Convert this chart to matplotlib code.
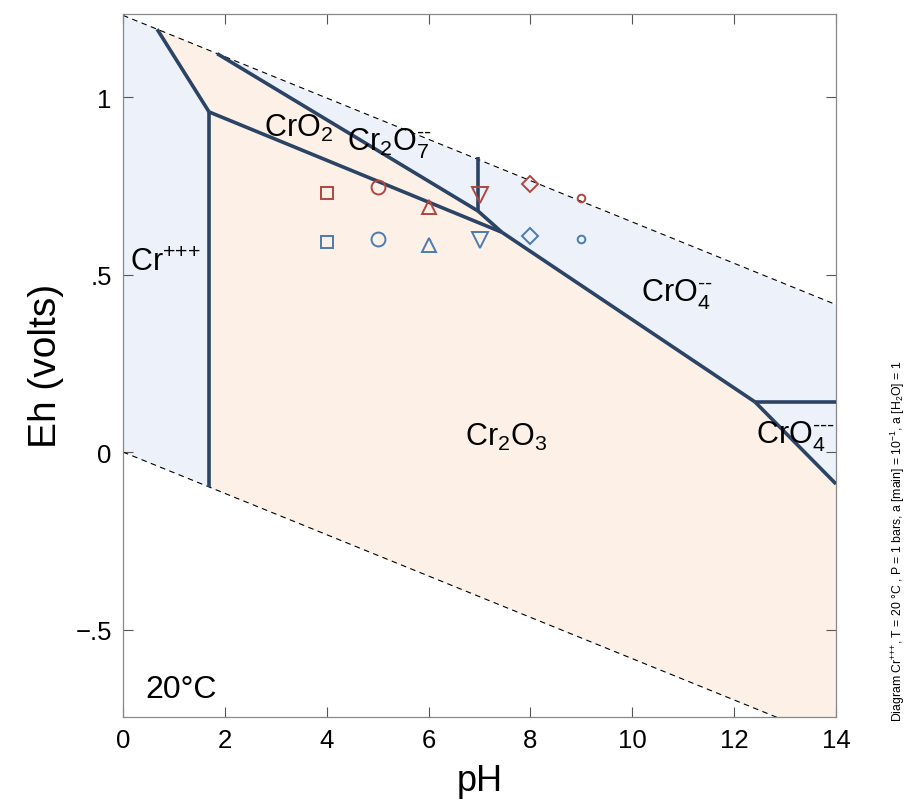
import numpy as np
import matplotlib
matplotlib.use("Agg")
import matplotlib.pyplot as plt
from matplotlib.patches import Polygon

plt.rcParams['font.family'] = ['Liberation Sans', 'DejaVu Sans']
plt.rcParams['mathtext.fontset'] = 'custom'
plt.rcParams['mathtext.rm'] = 'Liberation Sans'
plt.rcParams['mathtext.it'] = 'Liberation Sans:italic'

# water stability limits (20 C)
water_slope = -0.0582
water_top = 1.23
water_bottom = 0.0

# stability-field boundaries (pH, Eh)
cr3_cr2o3 = [(1.69, -0.098), (1.69, 0.958)]
cr3_cro2 = [(0.67, 1.191), (1.69, 0.958)]
cro2_cr2o3 = [(1.69, 0.958), (7.44, 0.619)]
cr2o7_cro2 = [(1.85, 1.122), (6.97, 0.679), (7.44, 0.619)]
cr2o7_cro4 = [(6.97, 0.83), (6.97, 0.679)]
cro4_cr2o3 = [(7.44, 0.619), (12.41, 0.141)]
cro4_cro4b = [(12.41, 0.141), (14.0, 0.141)]
cro4b_cr2o3 = [(12.41, 0.141), (14.0, -0.09)]

# solid (Cr2O3 / CrO2) field outline
solid_field = [(0.67, 1.191), (1.85, 1.122), (6.97, 0.679), (7.44, 0.619),
               (12.41, 0.141), (14.0, -0.09), (14.0, -0.815),
               (1.69, -0.098), (1.69, 0.958)]

# samples
sample_ph = [4, 5, 6, 7, 8, 9]
sample_markers = ['s', 'o', '^', 'v', 'D', 'o']
sample_sizes = [9, 10, 10, 11, 8, 5.5]
eh_red = [0.730, 0.746, 0.690, 0.724, 0.755, 0.715]
eh_blue = [0.592, 0.600, 0.583, 0.597, 0.608, 0.600]

fig = plt.figure(figsize=(9.11, 8.03), dpi=100)
ax = fig.add_axes([0.135, 0.106, 0.7827, 0.8754])

blue_fill = '#edf1f9'
peach_fill = '#fdf1e7'
navy = '#2b4466'

ph = np.array([0.0, 14.0])
ax.fill_between(ph, water_bottom + water_slope * ph, water_top + water_slope * ph,
                color=blue_fill, lw=0, zorder=0)
ax.add_patch(Polygon(solid_field, closed=True, facecolor=peach_fill, lw=0, zorder=1))
ax.plot(ph, water_top + water_slope * ph, 'k--', lw=0.8, dashes=(5, 4), zorder=2)
ax.plot(ph, water_bottom + water_slope * ph, 'k--', lw=0.8, dashes=(5, 4), zorder=2)

for seg in [cr3_cr2o3, cr3_cro2, cro2_cr2o3, cr2o7_cro2, cr2o7_cro4,
            cro4_cr2o3, cro4_cro4b, cro4b_cr2o3]:
    xs, ys = zip(*seg)
    ax.plot(xs, ys, color=navy, lw=2.6, solid_capstyle='butt', zorder=3)

for x, yr, yb, m, s in zip(sample_ph, eh_red, eh_blue, sample_markers, sample_sizes):
    ax.plot(x, yr, m, ms=s, mfc='none', mec='#b0463f', mew=1.4, zorder=4)
    ax.plot(x, yb, m, ms=s, mfc='none', mec='#4a7bb2', mew=1.4, zorder=4)

lab = dict(fontsize=22, ha='center', va='center', zorder=5)
ax.text(0.84, 0.535, r'Cr$^{\text{+++}}$', **lab)
ax.text(3.44, 0.915, r'CrO$_2$', **lab)
ax.text(5.22, 0.872, r'Cr$_2$O$_7^{\text{--}}$', **lab)
ax.text(10.88, 0.445, r'CrO$_4^{\text{--}}$', **lab)
ax.text(13.2, 0.045, r'CrO$_4^{\text{---}}$', **lab)
ax.text(7.52, 0.045, r'Cr$_2$O$_3$', **lab)
ax.text(1.14, -0.668, '20°C', fontsize=23, ha='center', va='center')

ax.set_xlim(0, 14)
ax.set_ylim(-0.746, 1.234)
ax.set_xticks([0, 2, 4, 6, 8, 10, 12, 14])
ax.set_yticks([-0.5, 0, 0.5, 1])
ax.set_yticklabels(['\u2212.5', '0', '.5', '1'])
ax.tick_params(direction='in', length=7, width=0.8, color='#555555',
               top=True, right=True, labelsize=18.5, pad=8)
for sp in ax.spines.values():
    sp.set_color('#888888')
    sp.set_linewidth(0.9)

ax.set_xlabel('pH', fontsize=26, labelpad=8)
ax.set_ylabel('Eh (volts)', fontsize=28, labelpad=8)

fig.text(0.996, 0.101,
         r'Diagram Cr$^{\text{+++}}$, T = 20 °C , P = 1 bars, a [main] = 10$^{-1}$, a [H$_2$O] = 1',
         rotation=90, fontsize=8.8, ha='right', va='bottom')

fig.savefig('out.png', dpi=100)
